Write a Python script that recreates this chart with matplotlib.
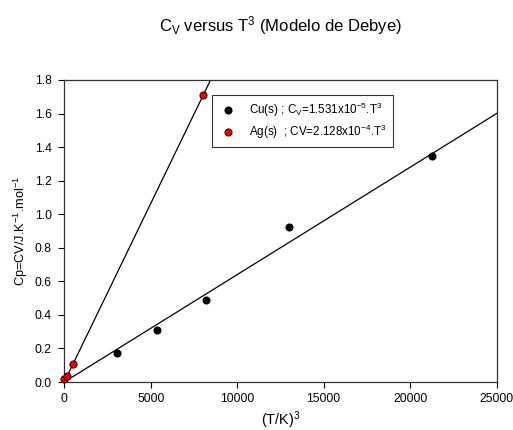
import matplotlib
matplotlib.use("Agg")
import matplotlib.pyplot as plt
import numpy as np

plt.rcParams['font.family'] = ['Liberation Sans', 'DejaVu Sans']
plt.rcParams['mathtext.fontset'] = 'custom'
plt.rcParams['mathtext.rm'] = 'Liberation Sans'
plt.rcParams['mathtext.default'] = 'regular'

# Heat capacity vs T^3
cu_T3 = [3050, 5350, 8190, 13000, 21250]
cu_cv = [0.175, 0.31, 0.489, 0.924, 1.345]
ag_T3 = [0, 150, 520, 8000]
ag_cv = [0.016, 0.037, 0.108, 1.71]

cu_slope = 6.4e-5
ag_slope = 2.128e-4

x_ticks = [0, 5000, 10000, 15000, 20000, 25000]
y_ticks = [0.0, 0.2, 0.4, 0.6, 0.8, 1.0, 1.2, 1.4, 1.6, 1.8]

fig = plt.figure(figsize=(5.13, 4.30), dpi=100)
ax = fig.add_axes([0.1253, 0.1116, 0.8427, 0.7024])

xl = np.array([0, 25000])
ax.plot(xl, cu_slope * xl, color='black', lw=0.9, zorder=2)
ax.plot(xl, ag_slope * xl, color='black', lw=0.9, zorder=2)

ax.plot(cu_T3, cu_cv, 'o', color='black', ms=4.8, zorder=3, clip_on=False,
        label=r'Cu(s) ; C$_V$=1.531x10$^{-5}$.T$^3$')
ax.plot(ag_T3, ag_cv, 'o', mfc='#ee0000', mec='black', mew=0.6, ms=5.2,
        zorder=4, clip_on=False,
        label=r'Ag(s)  ; CV=2.128x10$^{-4}$.T$^3$')

ax.set_xlim(0, 25000)
ax.set_ylim(0, 1.8)
ax.set_xticks(x_ticks)
ax.set_yticks(y_ticks)
ax.set_yticklabels([f'{v:.1f}' for v in y_ticks])
ax.tick_params(direction='out', length=4, width=0.8, labelsize=8.8,
               top=False, right=False)
ax.tick_params(axis='x', pad=4)
ax.tick_params(axis='y', pad=5)
for s in ax.spines.values():
    s.set_linewidth(0.9)
    s.set_color('#333333')

ax.set_xlabel(r'(T/K)$^3$', fontsize=10.4, labelpad=3)
ax.set_ylabel(r'Cp=CV/J.K$^{-1}$.mol$^{-1}$', fontsize=9.2, labelpad=3)
fig.text(0.546, 0.94, r'C$_V$ versus T$^3$ (Modelo de Debye)',
         ha='center', va='center', fontsize=12)

leg = ax.legend(loc='upper left', bbox_to_anchor=(0.413, 0.779),
                bbox_transform=fig.transFigure, fontsize=8.4,
                frameon=True, fancybox=False, edgecolor='black',
                handletextpad=1.0, borderpad=0.5, labelspacing=0.35,
                handlelength=1.7, borderaxespad=0)
leg.get_frame().set_linewidth(0.8)

fig.savefig('out.png', dpi=100)
